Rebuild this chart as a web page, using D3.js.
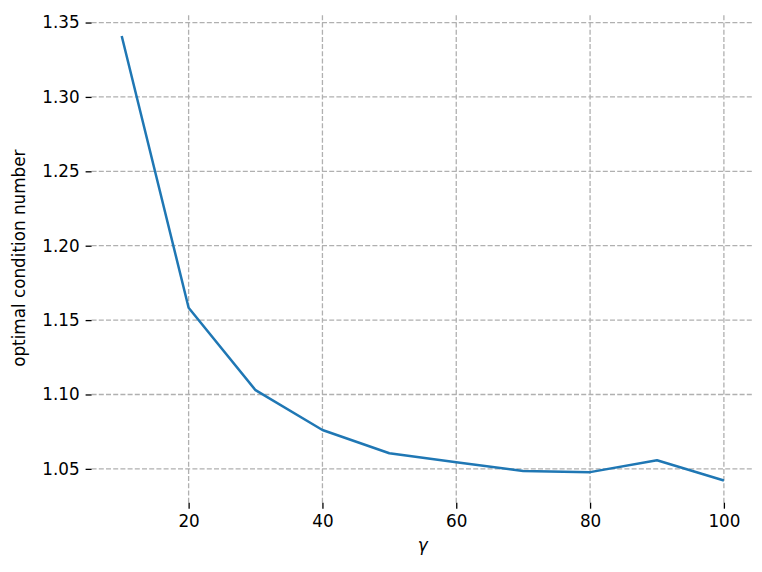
<!DOCTYPE html>
<html>
<head>
<meta charset="utf-8">
<script src="https://cdn.jsdelivr.net/npm/d3@7"></script>
<style>
  body { margin: 0; background: #fff; }
  text { font-family: "DejaVu Sans", sans-serif; fill: #000; }
</style>
</head>
<body>
<div class="c_chart"></div>
<script>
/* data */
const gammas = [10, 20, 30, 40, 50, 60, 70, 80, 90, 100];
const condNumbers = [1.341, 1.1583, 1.1029, 1.0761, 1.0605, 1.0545, 1.0485, 1.0478, 1.0558, 1.0422];
const xTicks = [20, 40, 60, 80, 100];
const yTicks = [1.05, 1.10, 1.15, 1.20, 1.25, 1.30, 1.35];

const width = 762;
const height = 572;
const margin = {top: 13.7, right: 8, bottom: 69.3, left: 91.6};
const fontSize = "16.8px";

let svg = d3.select(".c_chart")
  .append("svg")
  .attr("width", width)
  .attr("height", height);

/* matplotlib-style 5% margins around the data */
const xExt = d3.extent(gammas), yExt = d3.extent(condNumbers);
const xPad = (xExt[1] - xExt[0]) * 0.05, yPad = (yExt[1] - yExt[0]) * 0.05;

const x = d3.scaleLinear()
  .domain([xExt[0] - xPad, xExt[1] + xPad])
  .range([margin.left, width - margin.right]);

const y = d3.scaleLinear()
  .domain([yExt[0] - yPad, yExt[1] + yPad])
  .range([height - margin.bottom, margin.top]);

/* grid */
const grid = svg.append("g")
  .attr("stroke", "#b0b0b0")
  .attr("stroke-width", 1.3)
  .attr("stroke-dasharray", "5,2.2");

grid.selectAll(".gy")
  .data(yTicks)
  .enter()
  .append("line")
  .attr("x1", x.range()[0]).attr("x2", x.range()[1])
  .attr("y1", d => y(d)).attr("y2", d => y(d));

grid.selectAll(".gx")
  .data(xTicks)
  .enter()
  .append("line")
  .attr("y1", y.range()[0]).attr("y2", y.range()[1])
  .attr("x1", d => x(d)).attr("x2", d => x(d));

/* axes, no spines */
const xAxis = svg.append("g")
  .attr("transform", `translate(0,${height - margin.bottom})`)
  .call(d3.axisBottom(x).tickValues(xTicks).tickSize(6).tickPadding(6).tickFormat(d3.format("d")));

const yAxis = svg.append("g")
  .attr("transform", `translate(${margin.left},0)`)
  .call(d3.axisLeft(y).tickValues(yTicks).tickSize(6).tickPadding(6).tickFormat(d3.format(".2f")));

[xAxis, yAxis].forEach(a => {
  a.select(".domain").remove();
  a.selectAll(".tick line").attr("stroke", "#000").attr("stroke-width", 1.3);
  a.selectAll(".tick text").style("font-size", fontSize).attr("fill", "#000");
});

/* line */
const line = d3.line()
  .x((d, i) => x(gammas[i]))
  .y(d => y(d));

svg.append("path")
  .datum(condNumbers)
  .attr("d", line)
  .attr("fill", "none")
  .attr("stroke", "#1f77b4")
  .attr("stroke-width", 2.5)
  .attr("stroke-linejoin", "round");

/* labels */
svg.append("text")
  .attr("x", (x.range()[0] + x.range()[1]) / 2)
  .attr("y", 551)
  .attr("text-anchor", "middle")
  .style("font-size", fontSize)
  .style("font-style", "italic")
  .text("γ");

svg.append("text")
  .attr("transform", `translate(25,${(y.range()[0] + y.range()[1]) / 2}) rotate(-90)`)
  .attr("text-anchor", "middle")
  .style("font-size", fontSize)
  .text("optimal condition number");
</script>
</body>
</html>
